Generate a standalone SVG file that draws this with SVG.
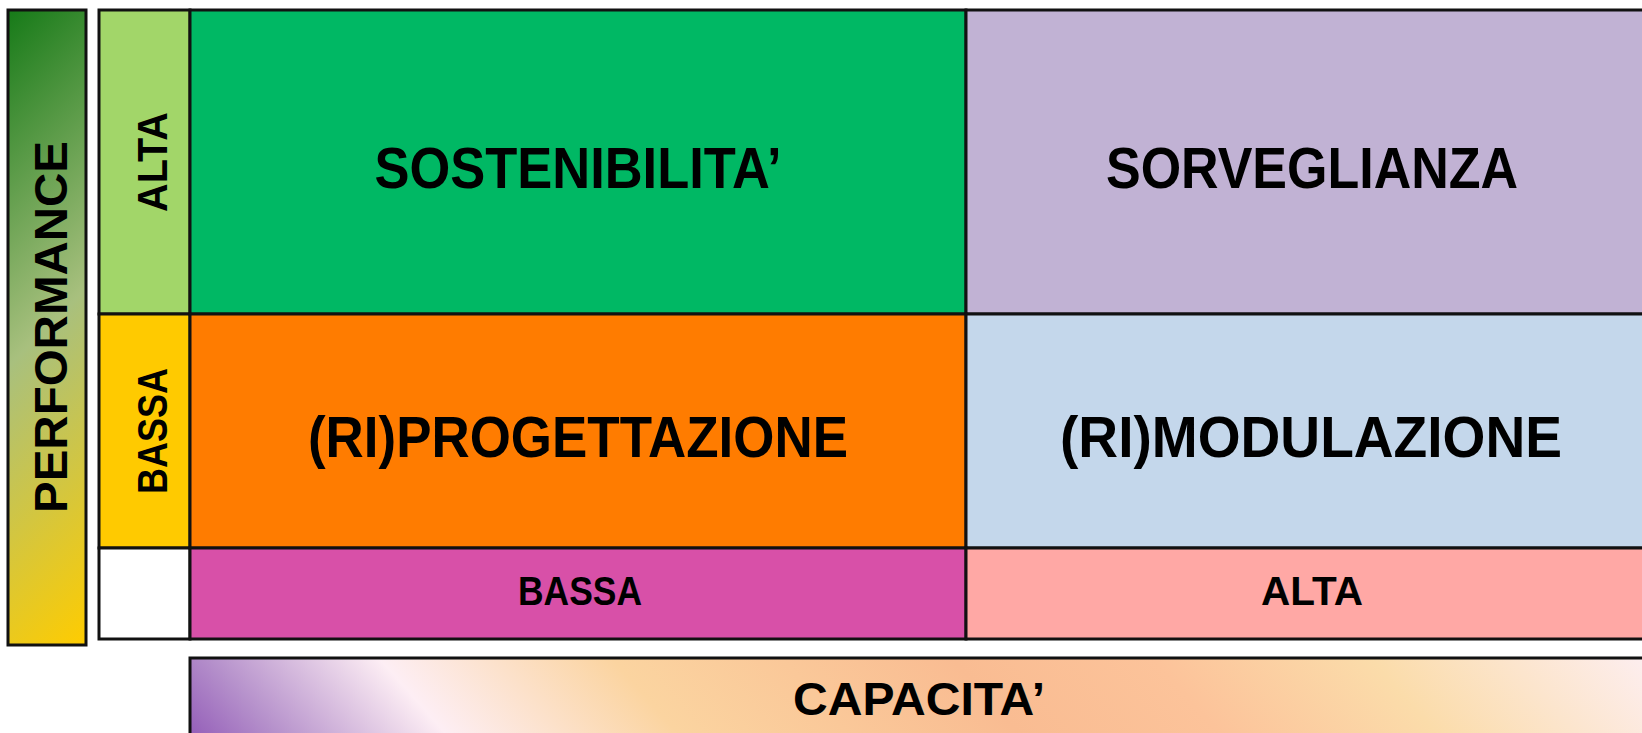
<svg xmlns="http://www.w3.org/2000/svg" width="1642" height="733" viewBox="0 0 1642 733">
<defs>
<linearGradient id="gPerf" gradientUnits="userSpaceOnUse" x1="8" y1="10" x2="364" y2="366">
<stop offset="0" stop-color="#167A18"/>
<stop offset="0.5" stop-color="#A8C07E"/>
<stop offset="1" stop-color="#FFCC00"/>
</linearGradient>
<linearGradient id="gCap" gradientUnits="userSpaceOnUse" x1="190" y1="760" x2="1063" y2="-8">
<stop offset="0" stop-color="#8C52B4"/>
<stop offset="0.07" stop-color="#B590CB"/>
<stop offset="0.18" stop-color="#FDEEF4"/>
<stop offset="0.33" stop-color="#FBD4A0"/>
<stop offset="0.55" stop-color="#F9BC92"/>
<stop offset="0.68" stop-color="#FCC39A"/>
<stop offset="0.82" stop-color="#FBDCAA"/>
<stop offset="1" stop-color="#FDEEF0"/>
</linearGradient>
</defs>
<style>
.c{stroke:#111;stroke-width:3}
.t{font-family:"Liberation Sans",Arial,sans-serif;font-weight:bold;fill:#000;text-anchor:middle}
</style>
<g id="performance">
<rect class="c" x="8" y="10" width="78" height="635" fill="url(#gPerf)"/>
<text class="t" font-size="47" transform="translate(67,327) rotate(-90)" textLength="372" lengthAdjust="spacingAndGlyphs">PERFORMANCE</text>
</g>
<g id="perf-alta">
<rect class="c" x="99" y="10" width="91" height="304" fill="#A2D669"/>
<text class="t" font-size="42" transform="translate(167,162) rotate(-90)" textLength="100" lengthAdjust="spacingAndGlyphs">ALTA</text>
</g>
<g id="perf-bassa">
<rect class="c" x="99" y="314" width="91" height="234" fill="#FFCA00"/>
<text class="t" font-size="42" transform="translate(167,431) rotate(-90)" textLength="126" lengthAdjust="spacingAndGlyphs">BASSA</text>
</g>
<g id="corner">
<rect class="c" x="99" y="548" width="91" height="91" fill="#FFFFFF"/>
</g>
<g id="sostenibilita">
<rect class="c" x="190" y="10" width="776" height="304" fill="#00B864"/>
<text class="t" font-size="58" x="578" y="188" textLength="407" lengthAdjust="spacingAndGlyphs">SOSTENIBILITA’</text>
</g>
<g id="sorveglianza">
<rect class="c" x="966" y="10" width="700" height="304" fill="#C1B2D4"/>
<text class="t" font-size="58" x="1312" y="188" textLength="412" lengthAdjust="spacingAndGlyphs">SORVEGLIANZA</text>
</g>
<g id="riprogettazione">
<rect class="c" x="190" y="314" width="776" height="234" fill="#FF7C00"/>
<text class="t" font-size="58" x="578" y="457" textLength="540" lengthAdjust="spacingAndGlyphs">(RI)PROGETTAZIONE</text>
</g>
<g id="rimodulazione">
<rect class="c" x="966" y="314" width="700" height="234" fill="#C4D7EB"/>
<text class="t" font-size="58" x="1311" y="457" textLength="502" lengthAdjust="spacingAndGlyphs">(RI)MODULAZIONE</text>
</g>
<g id="cap-bassa">
<rect class="c" x="190" y="548" width="776" height="91" fill="#D850A8"/>
<text class="t" font-size="40" x="580" y="605" textLength="124" lengthAdjust="spacingAndGlyphs">BASSA</text>
</g>
<g id="cap-alta">
<rect class="c" x="966" y="548" width="700" height="91" fill="#FFA8A5"/>
<text class="t" font-size="40" x="1312" y="605" textLength="102" lengthAdjust="spacingAndGlyphs">ALTA</text>
</g>
<g id="capacita">
<rect class="c" x="190" y="658" width="1470" height="110" fill="url(#gCap)"/>
<text class="t" font-size="46" x="919" y="715" textLength="252" lengthAdjust="spacingAndGlyphs">CAPACITA’</text>
</g>
<g id="connectors"/>
</svg>
